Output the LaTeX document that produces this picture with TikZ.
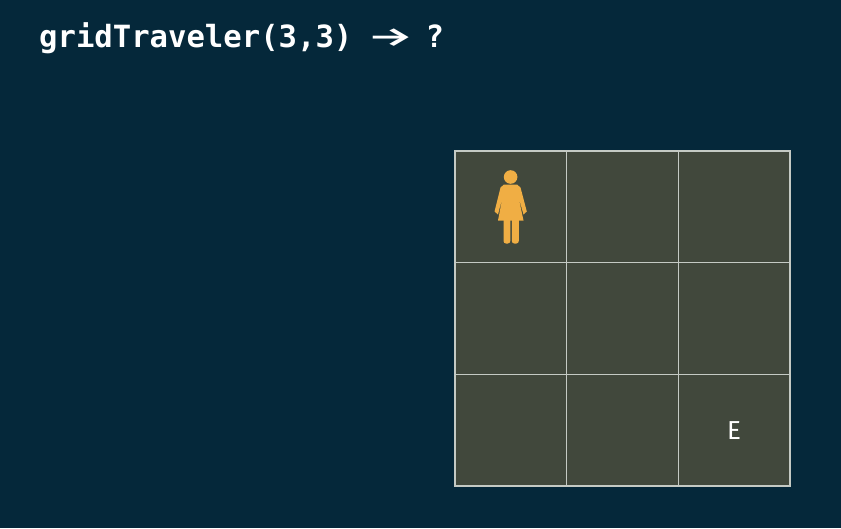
\documentclass[tikz,border=0pt]{standalone}
\usepackage{fontspec}
\setmonofont{DejaVu Sans Mono}
\setsansfont{Fira Sans}
\newfontfamily\arrowfont{Fira Sans Medium}
\usepackage{xcolor}
\usepackage{graphicx}
\usetikzlibrary{positioning}
\definecolor{bgblue}{HTML}{05283A}
\definecolor{cellgreen}{HTML}{41483C}
\definecolor{gridline}{HTML}{C4CAC4}
\definecolor{walker}{HTML}{F0AE44}

\begin{document}
\begin{tikzpicture}[
  x=1pt, y=-1pt,
  cell/.style={draw=gridline, line width=1.25pt, fill=cellgreen, minimum size=111.7pt,
               inner sep=0pt, outer sep=0pt},
  title/.style={font=\ttfamily\bfseries\fontsize{30.6}{36}\selectfont, text=white, anchor=west,
                inner sep=0pt},
  figure/.style={fill=walker, draw=none}
]
\fill[bgblue] (0,0) rectangle (841,528);
\useasboundingbox (0,0) rectangle (841,528);

\node[title] (head) at (39,38) {gridTraveler(3,3)\hspace{15pt}\raisebox{1pt}{\scalebox{1.9}[1]{\arrowfont\mdseries\fontsize{27}{27}\selectfont →}}\hspace{12pt}?};

% Grid
\node[cell, anchor=north west] (c11) at (454.9,150.9) {};
\node[cell, right=0pt of c11] (c12) {};
\node[cell, right=0pt of c12] (c13) {};
\node[cell, below=0pt of c11] (c21) {};
\node[cell, right=0pt of c21] (c22) {};
\node[cell, right=0pt of c22] (c23) {};
\node[cell, below=0pt of c21] (c31) {};
\node[cell, right=0pt of c31] (c32) {};
\node[cell, right=0pt of c32] (c33) {};
\draw[gridline, line width=2.6pt] (c11.north west) rectangle (c33.south east);

\node[text=white, font=\sffamily\fontsize{26}{28}\selectfont, inner sep=0pt] (goal) at (734,431) {E};

% Person in the first cell
\fill[figure] (510.6,177) circle (6.8);
\fill[figure] (504,184.5) -- (517,184.5) to[bend left=10] (520.5,187.5) -- (526.8,211.5) -- (523.5,214.5)
  -- (518.5,197) -- (523.5,220.5) -- (498,220.5) -- (502.5,197) -- (498,214.5) -- (494.5,211.5) -- (500.5,187.5) to[bend left=10] cycle;
\fill[figure, rounded corners=2.5pt] (503.5,216) rectangle (510.3,243.5);
\fill[figure, rounded corners=2.5pt] (511.8,216) rectangle (518.8,243.5);
\end{tikzpicture}
\end{document}
